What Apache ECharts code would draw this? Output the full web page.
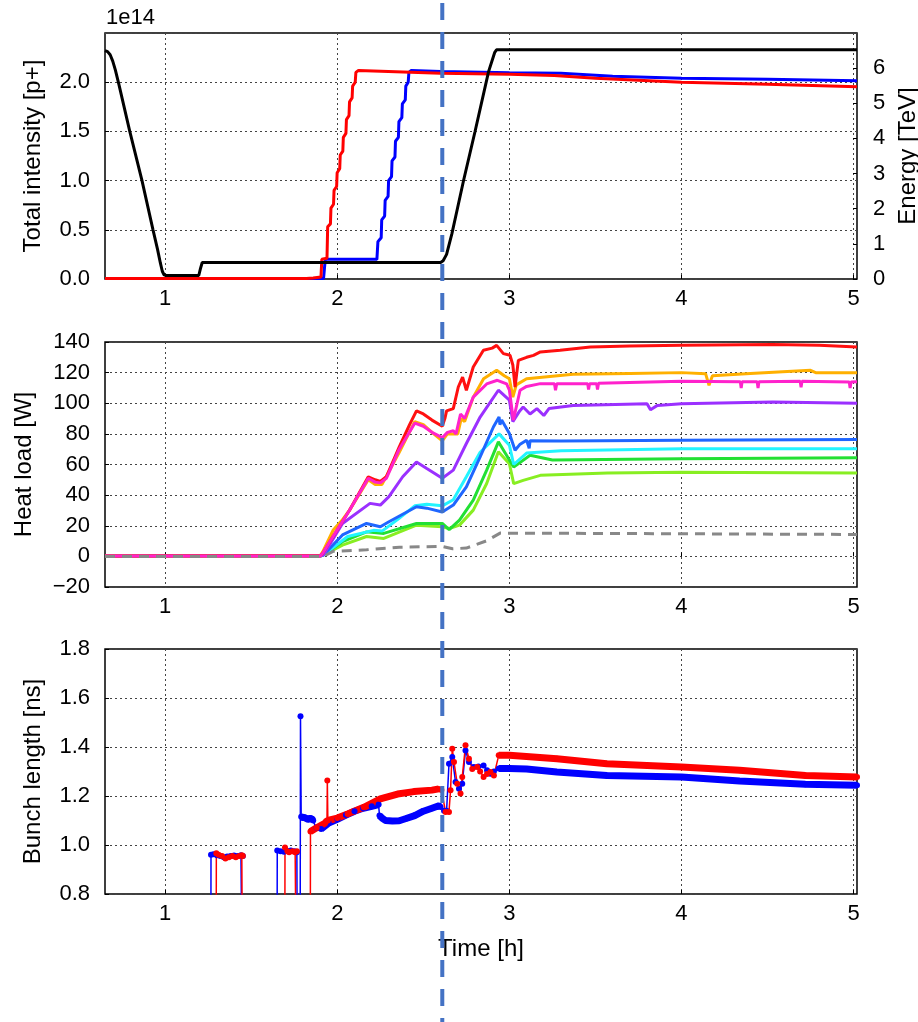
<!DOCTYPE html>
<html><head><meta charset="utf-8">
<script src="https://cdn.jsdelivr.net/npm/echarts@6/dist/echarts.min.js"></script>
<style>html,body{margin:0;padding:0;background:#fff}#c{width:918px;height:1022px}</style>
</head><body><div id="c"></div>
<script>
// ---------- data (time in hours) ----------
const timeMin = 0.65, timeMax = 5.02;
const timeTicks = [1, 2, 3, 4, 5];
const markerTime = 2.61;

// Top panel: total intensity [1e14 p+]
const intensityB1 = [[0.65,0.005],[1.92,0.005],[1.925,0.02],[1.93,0.2],[2.23,0.2],[2.236,0.38],[2.255,0.42],[2.258,0.6],[2.275,0.64],[2.278,0.8],[2.295,0.84],[2.298,1.0],[2.315,1.04],[2.318,1.2],[2.335,1.24],[2.338,1.4],[2.355,1.44],[2.358,1.6],[2.375,1.64],[2.378,1.78],[2.395,1.82],[2.398,1.96],[2.412,2.0],[2.416,2.1],[2.43,2.12],[2.6,2.11],[3.0,2.095],[3.3,2.09],[3.6,2.06],[4.0,2.04],[4.5,2.03],[5.02,2.015]];
const intensityB2 = [[0.65,0.005],[1.82,0.005],[1.86,0.01],[1.905,0.02],[1.91,0.2],[1.94,0.21],[1.944,0.53],[1.96,0.56],[1.963,0.72],[1.978,0.76],[1.981,0.9],[1.996,0.94],[1.999,1.08],[2.014,1.12],[2.017,1.26],[2.032,1.3],[2.035,1.44],[2.05,1.48],[2.053,1.62],[2.068,1.66],[2.071,1.8],[2.086,1.84],[2.089,1.96],[2.104,2.0],[2.108,2.1],[2.123,2.12],[2.6,2.09],[3.0,2.08],[3.26,2.068],[3.5,2.04],[4.0,2.0],[4.5,1.98],[5.02,1.955]];
// Top panel: energy [TeV]
const energy = [[0.65,6.5],[0.665,6.47],[0.68,6.38],[0.695,6.2],[0.71,5.95],[0.73,5.55],[0.794,4.2],[0.865,2.8],[0.929,1.4],[0.955,0.85],[0.972,0.45],[0.983,0.22],[0.993,0.12],[1.005,0.1],[1.195,0.1],[1.205,0.3],[1.215,0.47],[2.6,0.47],[2.615,0.52],[2.635,0.7],[2.666,1.29],[2.7,2.05],[2.734,2.81],[2.8,4.19],[2.879,5.9],[2.915,6.45],[2.925,6.52],[5.02,6.52]];

// Middle panel: heat load [W]
const heatRed = [[0.65,0.3],[1.3,0.4],[1.9,0.4],[1.915,2],[1.975,13],[2.07,30],[2.14,44],[2.18,52],[2.22,50],[2.25,49],[2.285,52],[2.36,71.5],[2.42,86],[2.46,95],[2.5,93],[2.55,89],[2.61,85],[2.625,90],[2.635,95],[2.674,96.5],[2.703,110.6],[2.728,117],[2.75,108.5],[2.79,123.7],[2.849,134.6],[2.9,136],[2.926,137.8],[2.965,132.4],[3.004,131.3],[3.02,125],[3.033,110.6],[3.052,128],[3.1,130],[3.14,131.3],[3.18,133.5],[3.295,134.6],[3.47,136.8],[3.7,137.4],[4.0,137.9],[4.53,138.3],[4.8,137.8],[5.02,136.8]];
const heatOrange = [[0.65,0.3],[1.9,0.3],[1.915,3],[1.975,17],[2.03,24],[2.07,30],[2.18,50],[2.22,47],[2.26,47],[2.36,68],[2.45,88],[2.5,86],[2.56,80],[2.61,75.5],[2.64,80],[2.674,80],[2.7,80],[2.72,90],[2.74,88],[2.79,104],[2.85,116],[2.926,121.5],[2.97,118],[3.0,116],[3.02,104],[3.04,112],[3.1,116],[3.37,119],[3.7,119.5],[4.0,120],[4.14,119.3],[4.16,111.7],[4.18,118],[4.4,119.5],[4.75,121.5],[4.78,120],[5.02,120]];
const heatMagenta = [[0.65,0.3],[1.9,0.3],[1.915,2],[1.975,13],[2.07,30],[2.18,51],[2.22,48.5],[2.25,48],[2.285,51],[2.36,70],[2.45,87],[2.5,85],[2.55,81],[2.61,77.5],[2.64,81],[2.674,82],[2.69,80],[2.716,93],[2.74,90],[2.79,104],[2.868,112.6],[2.93,115],[2.984,112.6],[3.0,108.5],[3.023,89],[3.062,108.5],[3.1,111],[3.18,112.8],[3.262,112.8],[3.268,108.5],[3.275,112.8],[3.455,112.8],[3.46,109],[3.466,112.8],[3.507,112.8],[3.512,109],[3.518,113],[4.0,114.3],[4.342,114],[4.347,110],[4.352,114],[4.44,114],[4.445,110],[4.45,114],[4.69,114.3],[4.695,110.5],[4.7,114.3],[4.975,113.9],[4.98,110],[4.985,113.9],[5.02,114]];
const heatPurple = [[0.65,0.2],[1.9,0.2],[1.92,1],[2.03,21.5],[2.19,34.6],[2.25,33.5],[2.3,39],[2.38,52],[2.46,61.7],[2.52,57.4],[2.61,51],[2.674,56.3],[2.75,73.7],[2.83,91],[2.936,108.5],[3.0,102],[3.02,88],[3.06,95],[3.08,97.6],[3.12,93],[3.16,96.5],[3.2,92],[3.23,96.5],[3.37,98.6],[3.8,99.7],[3.82,95.8],[3.86,98.6],[4.0,99.7],[4.53,100.8],[5.02,100]];
const heatBlue = [[0.65,0.2],[1.9,0.2],[1.92,1],[2.03,14],[2.17,21.5],[2.25,19.3],[2.3,22.6],[2.46,32.4],[2.52,31.5],[2.61,29],[2.674,33.5],[2.75,45.4],[2.83,65],[2.907,84.5],[2.94,91],[2.945,86],[2.955,89],[3.0,80.2],[3.033,69.3],[3.06,73],[3.1,75.9],[3.11,75.9],[3.115,70.5],[3.12,75.5],[3.3,75.3],[4.0,75.8],[5.02,76.4]];
const heatCyan = [[0.65,0.2],[1.9,0.2],[1.92,1],[2.06,13],[2.21,17],[2.26,16.5],[2.35,24],[2.45,33],[2.52,34],[2.61,33],[2.674,37],[2.75,52],[2.83,68],[2.94,80],[3.0,72.6],[3.025,60],[3.1,67.5],[3.3,69],[4.0,70.3],[5.02,70.3]];
const heatGreen = [[0.65,0.2],[1.9,0.2],[1.92,1],[2.03,9.6],[2.17,16],[2.27,15],[2.46,21.5],[2.61,21.5],[2.65,17.5],[2.71,23.7],[2.79,36.7],[2.868,56.3],[2.936,74.8],[3.0,63],[3.025,58.3],[3.12,66],[3.25,63],[4.0,63.8],[5.02,64.4]];
const heatLime = [[0.65,0.2],[1.9,0.2],[1.92,1],[2.03,7.4],[2.17,13],[2.27,11.7],[2.46,20.4],[2.61,19.3],[2.65,18.2],[2.71,20.4],[2.79,30.2],[2.868,47.6],[2.936,68.3],[3.0,60.5],[3.025,47.5],[3.08,49.6],[3.18,52.9],[3.57,54.4],[4.0,55],[5.02,54.4]];
const heatModel = [[0.65,0],[1.92,0],[1.975,3.3],[2.17,4.3],[2.36,6],[2.61,6.5],[2.67,5],[2.75,5.4],[2.868,10.2],[2.946,15.2],[3.5,15],[5.02,14.3]];

// Bottom panel: bunch length [ns] (0 = no beam, off-scale)
const bunchB1 = [[1.264,0],[1.266,0.96],[1.28,0.962],[1.30,0.958],[1.32,0.955],[1.34,0.95],[1.36,0.953],[1.38,0.955],[1.40,0.957],[1.42,0.955],[1.44,0.958],[1.451,0.955],[1.453,0],[1.649,0],[1.651,0.978],[1.67,0.975],[1.69,0.972],[1.71,0.976],[1.73,0.978],[1.75,0.975],[1.765,0.97],[1.77,0],[1.783,0],[1.786,1.526],[1.79,1.115],[1.80,1.11],[1.81,1.112],[1.82,1.108],[1.83,1.105],[1.84,1.11],[1.85,1.108],[1.86,1.1],[1.88,1.07],[1.906,1.065],[1.95,1.09],[2.0,1.105],[2.05,1.122],[2.1,1.138],[2.15,1.15],[2.2,1.158],[2.24,1.165],[2.245,1.12],[2.26,1.11],[2.28,1.1],[2.32,1.098],[2.36,1.099],[2.4,1.108],[2.45,1.12],[2.5,1.138],[2.55,1.15],[2.59,1.16],[2.6,1.155],[2.62,1.14],[2.635,1.14],[2.649,1.332],[2.668,1.359],[2.687,1.257],[2.707,1.23],[2.726,1.25],[2.745,1.386],[2.765,1.339],[2.794,1.318],[2.82,1.32],[2.85,1.325],[2.87,1.305],[2.89,1.291],[2.91,1.3],[2.938,1.312],[3.0,1.312],[3.1,1.31],[3.276,1.298],[3.566,1.284],[4.0,1.278],[4.338,1.261],[4.72,1.248],[5.02,1.244]];
const bunchB2 = [[1.295,0],[1.297,0.966],[1.31,0.96],[1.33,0.955],[1.35,0.945],[1.37,0.95],[1.39,0.955],[1.41,0.95],[1.43,0.955],[1.445,0.958],[1.451,0.955],[1.453,0],[1.694,0],[1.696,0.99],[1.71,0.975],[1.72,0.97],[1.74,0.975],[1.755,0.97],[1.765,0.975],[1.767,0],[1.842,0],[1.844,1.055],[1.88,1.07],[1.93,1.09],[1.94,1.1],[1.942,1.263],[1.945,1.1],[2.0,1.11],[2.06,1.127],[2.154,1.154],[2.25,1.188],[2.35,1.208],[2.445,1.218],[2.55,1.224],[2.59,1.229],[2.605,1.225],[2.629,1.135],[2.649,1.135],[2.658,1.223],[2.668,1.393],[2.678,1.339],[2.697,1.25],[2.716,1.21],[2.726,1.278],[2.745,1.407],[2.765,1.352],[2.784,1.31],[2.813,1.318],[2.83,1.3],[2.85,1.278],[2.87,1.29],[2.89,1.298],[2.91,1.284],[2.938,1.366],[3.0,1.366],[3.276,1.352],[3.566,1.332],[4.0,1.318],[4.338,1.305],[4.72,1.284],[5.02,1.278]];
const bandB1 = [[1.79,1.86],[1.906,2.24],[2.245,2.6],[2.938,5.02]];
const bandB2 = [[1.844,1.94],[1.945,2.59],[2.938,5.02]];

// ---------- styling ----------
const FONT = "'Liberation Sans', Arial, Helvetica, sans-serif";
const TICK_FS = 22, NAME_FS = 24;
const grids = [
  {left:105, top:33, width:752, height:246},
  {left:105, top:342, width:752, height:245},
  {left:105, top:649, width:752, height:245}
].map(g => Object.assign({show:true, borderColor:'#000', borderWidth:1.5, backgroundColor:'#fff', containLabel:false, outerBoundsMode:'none'}, g));

const split = {show:true, lineStyle:{color:'#444', type:[2,3], width:1}};
function xAx(i){
  return {type:'value', gridIndex:i, min:timeMin, max:timeMax, splitNumber:5,
    axisLine:{show:false},
    axisTick:{show:true, inside:true, length:4, lineStyle:{color:'#000'}, customValues:timeTicks},
    axisLabel:{color:'#000', fontFamily:FONT, fontSize:TICK_FS, margin:9, customValues:timeTicks,
      formatter:v => Math.abs(v-Math.round(v))<1e-6 ? String(Math.round(v)) : ''},
    splitLine:split,
    name: i===2 ? 'Time [h]' : '', nameLocation:'middle', nameGap:43,
    nameTextStyle:{color:'#000', fontFamily:FONT, fontSize:NAME_FS}};
}
function yAx(i, min, max, interval, name, fmt, opts){
  return Object.assign({type:'value', gridIndex:i, min, max, interval,
    axisLine:{show:false}, axisTick:{show:true, inside:true, length:4, lineStyle:{color:'#000'}},
    axisLabel:{color:'#000', fontFamily:FONT, fontSize:TICK_FS, margin:15, formatter:fmt},
    splitLine:split, name, nameLocation:'middle', nameRotate:90, nameGap:60,
    nameTextStyle:{color:'#000', fontFamily:FONT, fontSize:NAME_FS}}, opts||{});
}

function line(data, color, xi, yi, width, extra){
  return Object.assign({type:'line', data, xAxisIndex:xi, yAxisIndex:yi, showSymbol:false, symbol:'none',
    lineStyle:{color, width}, itemStyle:{color}, clip:true, animation:false, silent:true}, extra||{});
}
function seg(arr, a, b){ return arr.filter(p => p[0] >= a-1e-9 && p[0] <= b+1e-9); }

const series = [
  // top
  line(intensityB1, '#0000ff', 0, 0, 3),
  line(intensityB2, '#ff0000', 0, 0, 3),
  line(energy, '#000000', 0, 1, 3),
  // middle
  line(heatLime, '#88ee22', 1, 2, 3),
  line(heatGreen, '#22e034', 1, 2, 3),
  line(heatCyan, '#22f4ff', 1, 2, 3),
  line(heatBlue, '#1f66ff', 1, 2, 3),
  line(heatPurple, '#9b30ff', 1, 2, 3),
  line(heatOrange, '#ffb000', 1, 2, 3),
  line(heatRed, '#ff1010', 1, 2, 3),
  line(heatMagenta, '#ff22cc', 1, 2, 3),
  line(heatModel, '#888888', 1, 2, 3, {lineStyle:{color:'#888888', width:3, type:[10,7]}}),
];
// bottom: bands for dense marker stretches
bandB1.forEach(r => series.push(line(seg(bunchB1, r[0], r[1]), '#0000ff', 2, 3, 7)));
series.push(line(bunchB1, '#0000ff', 2, 3, 1.5, {showSymbol:true, symbol:'circle', symbolSize:6}));
bandB2.forEach(r => series.push(line(seg(bunchB2, r[0], r[1]), '#ff0000', 2, 3, 7)));
series.push(line(bunchB2, '#ff0000', 2, 3, 1.5, {showSymbol:true, symbol:'circle', symbolSize:6}));

const chart = echarts.init(document.getElementById('c'), null, {renderer:'canvas'});
chart.setOption({
  animation:false, backgroundColor:'#fff',
  textStyle:{fontFamily:FONT},
  grid:grids,
  xAxis:[xAx(0), xAx(1), xAx(2)],
  yAxis:[
    yAx(0, 0, 2.5, 0.5, 'Total intensity [p+]', v => v.toFixed(1), {axisLabel:{color:'#000', fontFamily:FONT, fontSize:TICK_FS, margin:15, showMaxLabel:false, formatter:v => v.toFixed(1)}}),
    yAx(0, 0, 7, 1, 'Energy [TeV]', v => String(v), {position:'right', splitLine:{show:false}, nameGap:29,
      axisLabel:{color:'#000', fontFamily:FONT, fontSize:TICK_FS, margin:16, showMaxLabel:false}}),
    yAx(1, -20, 140, 20, 'Heat load [W]', v => (v<0 ? '\u2212' + Math.abs(v) : String(v)), {nameGap:69}),
    yAx(2, 0.8, 1.8, 0.2, 'Bunch length [ns]', v => v.toFixed(1), {nameGap:60})
  ],
  series
});

// overlays: scale exponent and the vertical marker line across the figure
const xm = chart.convertToPixel({xAxisIndex:0}, markerTime);
chart.setOption({graphic:[
  {type:'text', left:106, top:7, z:100, style:{text:'1e14', font:TICK_FS + 'px ' + FONT, fill:'#000'}},
  {type:'line', z:200, shape:{x1:xm, y1:3, x2:xm, y2:1022}, style:{stroke:'#4472c4', lineWidth:4, lineDash:[17,12]}}
]});
</script></body></html>
